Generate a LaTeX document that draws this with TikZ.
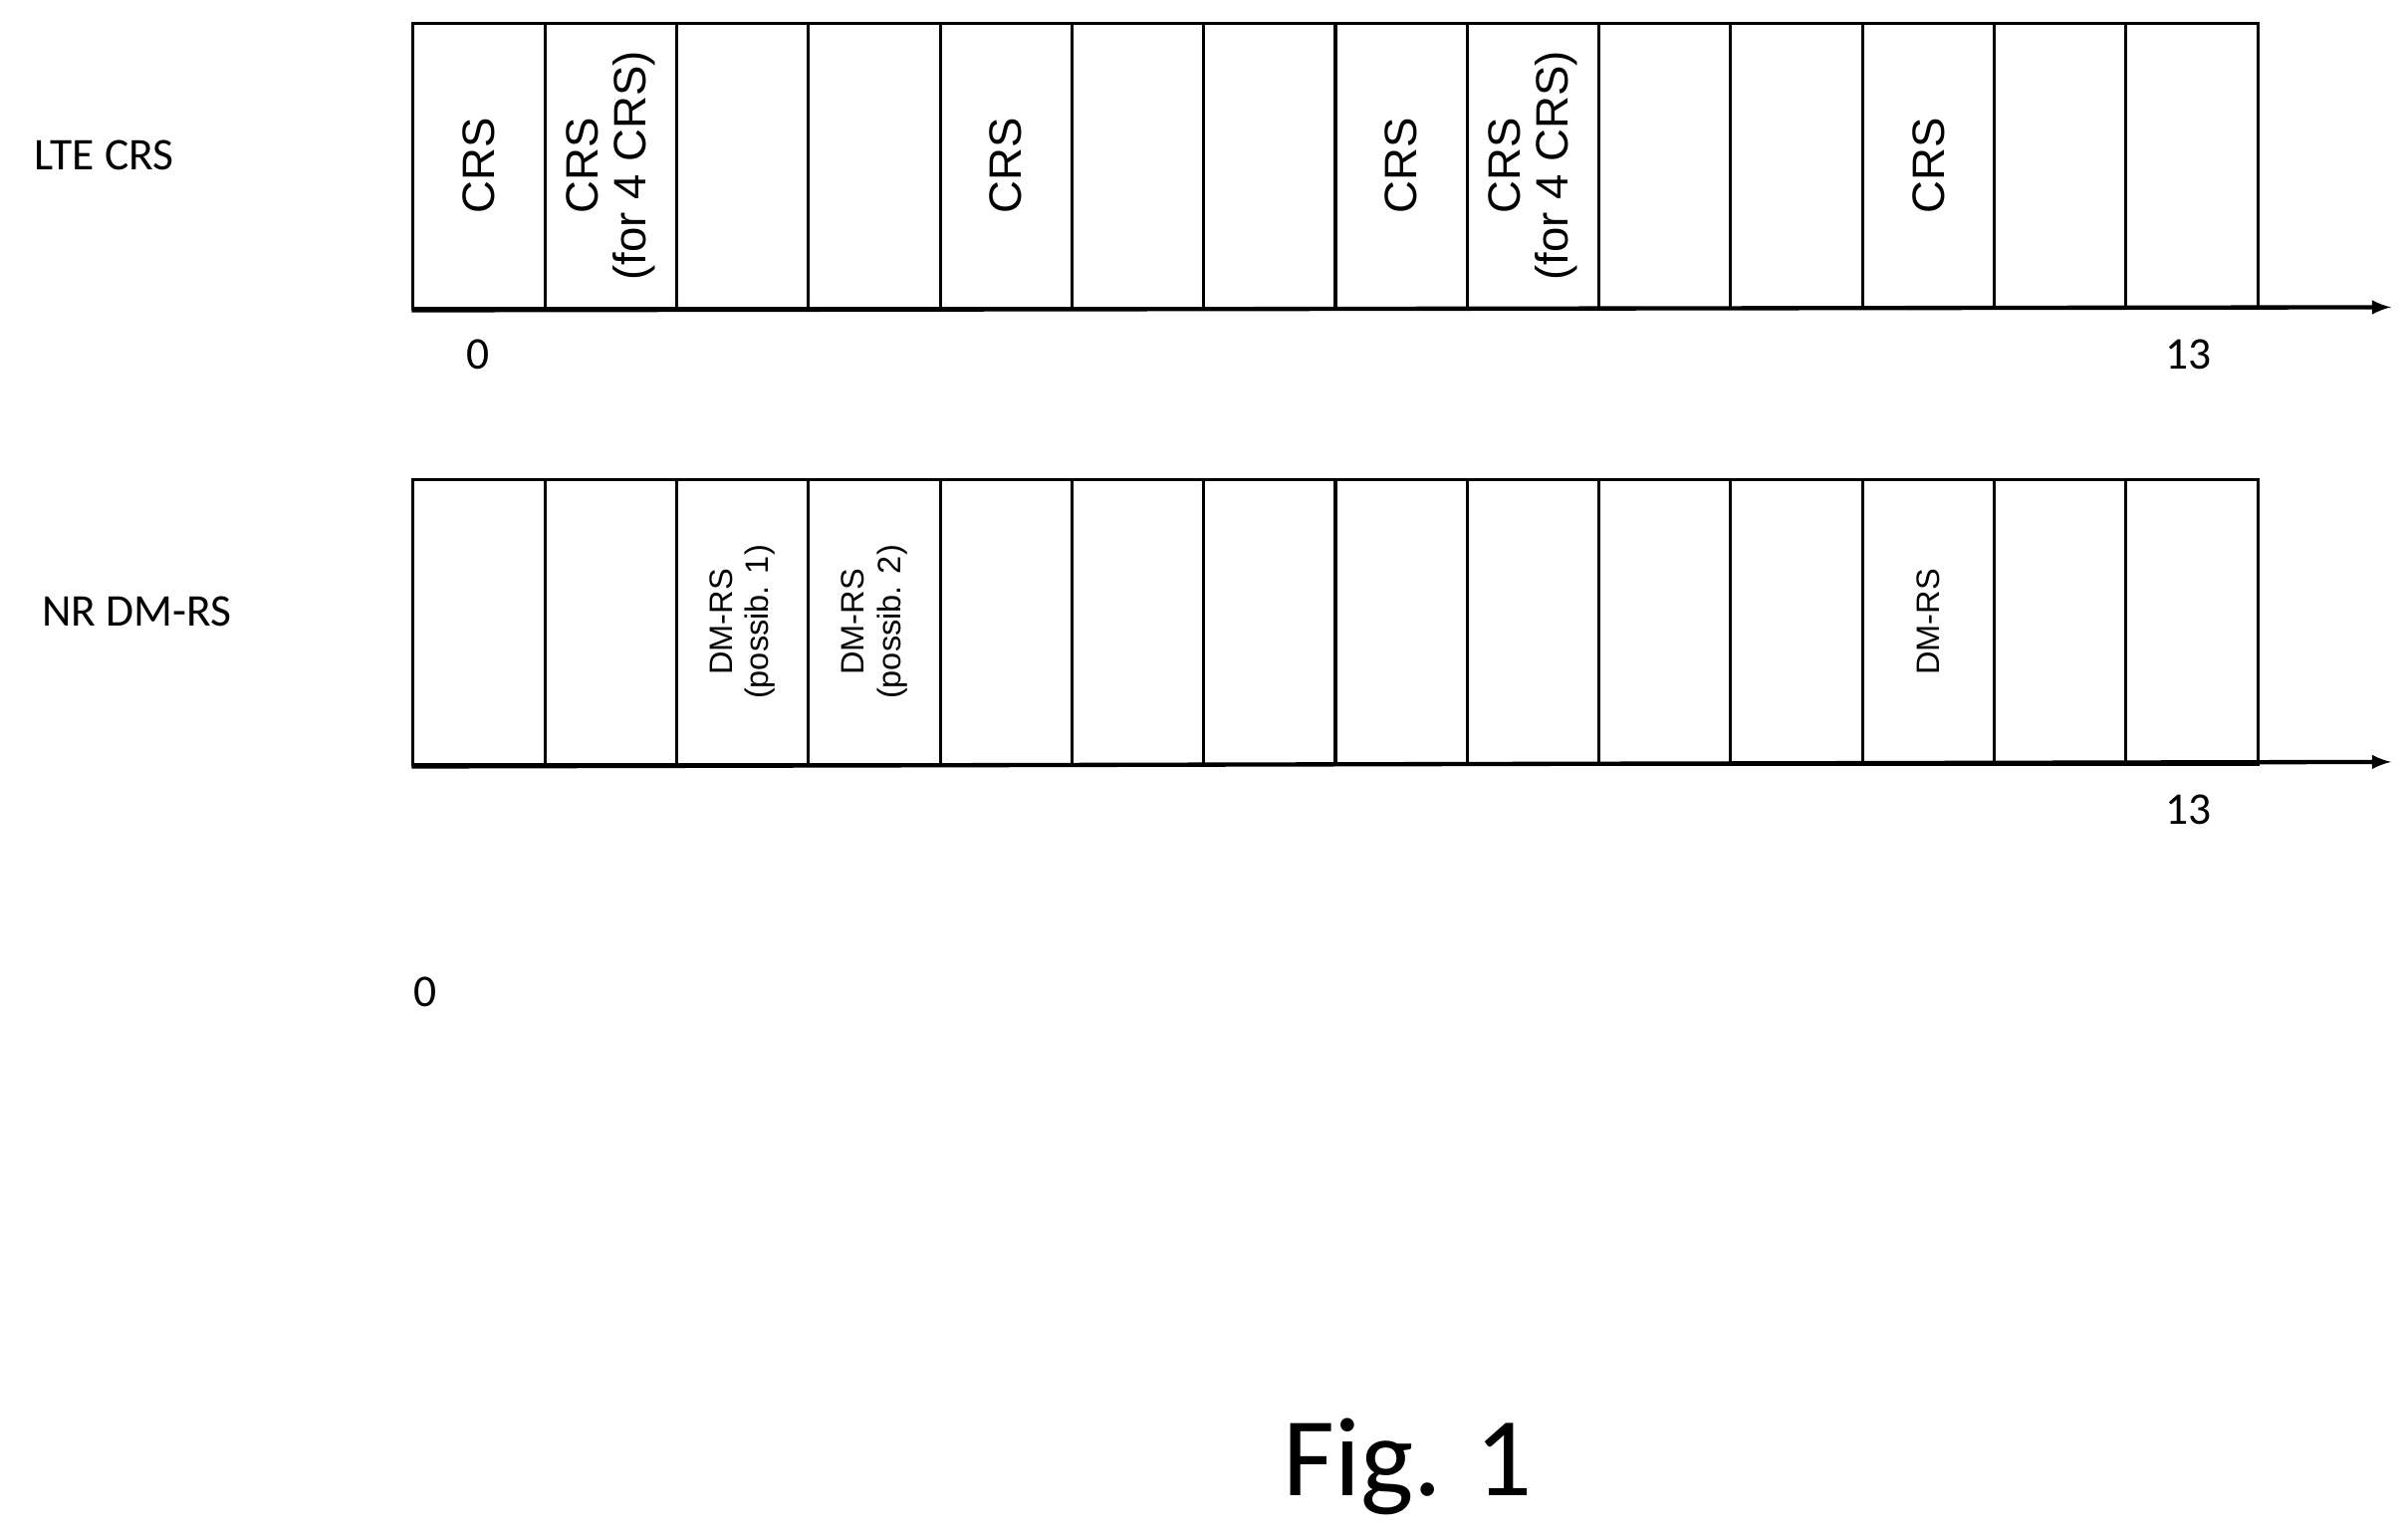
\documentclass[tikz,border=0pt]{standalone}
\usepackage{fontspec}
\setmainfont{Carlito}
\newfontfamily\arialf{Liberation Sans}
\begin{document}
\begin{tikzpicture}[x=0.025cm,y=-0.025cm,
  cell/.style={draw,line width=1.4pt,minimum width=85.8*0.025cm,minimum height=186*0.025cm,inner sep=0,anchor=north west},
  ctext/.style={rotate=90,align=center,font=\arialf\fontsize{21}{22}\selectfont},
  dtext/.style={rotate=90,align=center,font=\arialf\fontsize{15}{17}\selectfont},
  lbl/.style={font=\fontsize{21}{24}\selectfont},
  axis/.style={line width=2pt,-latex}]
\useasboundingbox (0,0) rectangle (1568,1000);
\foreach \i in {0,...,13}{
  \node[cell] (a\i) at ({268+85.8*\i},14) {};
  \node[cell] (b\i) at ({268+85.8*\i},311) {};
}
\coordinate (ea) at (1557,200);
\coordinate (eb) at (1557,496);
\draw[axis] (a0.south west) -- (ea);
\draw[axis] (b0.south west) -- (eb);
\node[ctext] at (a0) {CRS};
\node[ctext] at (a1) {CRS\\(for 4 CRS)};
\node[ctext] at (a4) {CRS};
\node[ctext] at (a7) {CRS};
\node[ctext] at (a8) {CRS\\(for 4 CRS)};
\node[ctext] at (a11) {CRS};
\node[dtext] at (b2) {DM-RS\\(possib. 1)};
\node[dtext] at (b3) {DM-RS\\(possib. 2)};
\node[dtext] at (b11) {DM-RS};
\node[lbl] (l1) at (68,101) {LTE CRS};
\node[lbl] (l2) at (89,398) {NR DM-RS};
\node[lbl] (z1) at (311,231) {0};
\node[lbl] (t1) at (1425,231) {13};
\node[lbl] (t2) at (1425,527) {13};
\node[lbl] (z2) at (277,646) {0};
\node[font=\fontsize{52}{60}\selectfont] (fig) at (917,955) {Fig. 1};
\end{tikzpicture}
\end{document}
